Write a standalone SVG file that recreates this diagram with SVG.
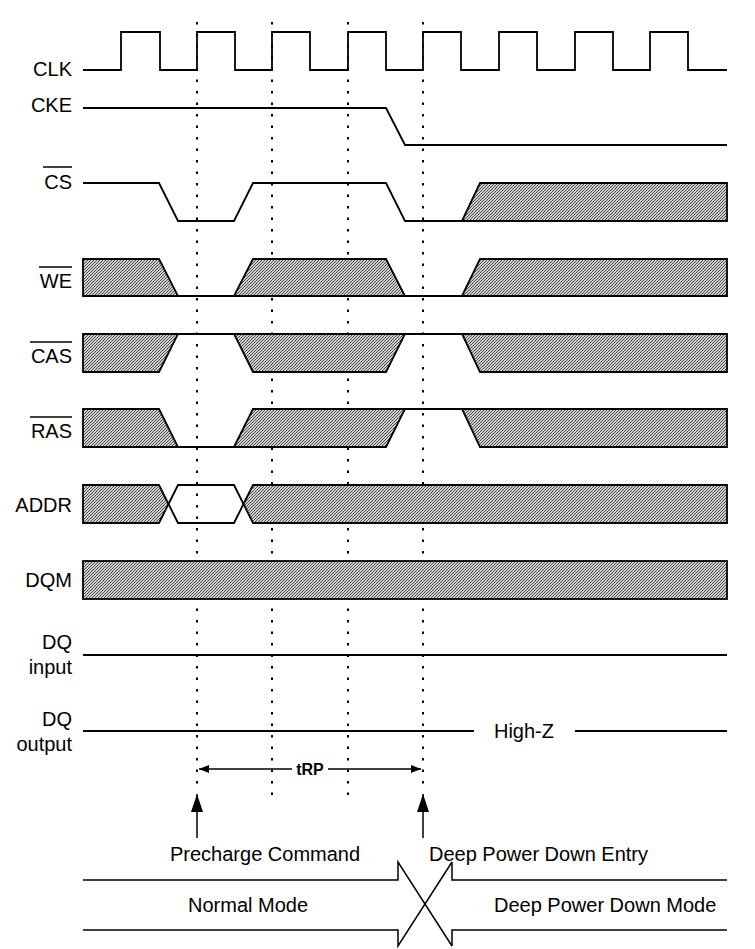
<svg xmlns="http://www.w3.org/2000/svg" width="755" height="949" viewBox="0 0 755 949">
<defs>
<pattern id="hatch" patternUnits="userSpaceOnUse" width="3" height="3">
<rect width="3" height="3" fill="#cfcfcf"/>
<path d="M-1,1 L1,-1 M0,3 L3,0 M2,4 L4,2" stroke="#3c3c3c" stroke-width="0.9"/>
</pattern>
<marker id="ah" viewBox="0 0 10 8" refX="10" refY="4" markerWidth="10" markerHeight="8" markerUnits="userSpaceOnUse" orient="auto-start-reverse">
<path d="M0,0 L10,4 L0,8 Z" fill="#000"/>
</marker>
<marker id="ahup" viewBox="0 0 18 12" refX="18" refY="6" markerWidth="18" markerHeight="12" markerUnits="userSpaceOnUse" orient="auto">
<path d="M0,0 L18,6 L0,12 Z" fill="#000"/>
</marker>
</defs>
<style>
.lbl{font-family:"Liberation Sans",Arial,sans-serif;font-size:20px;fill:#000}
.r{text-anchor:end}
.w{fill:none;stroke:#000;stroke-width:1.8;stroke-linejoin:miter}
.h{fill:url(#hatch);stroke:#000;stroke-width:1.8}
.grid{stroke:#000;stroke-width:2;stroke-dasharray:2.5 9}
.ol{stroke:#000;stroke-width:1.5}
.ln{fill:none;stroke:#000;stroke-width:1.5}
</style>
<rect width="755" height="949" fill="#fff"/>

<g id="gridlines">
<line class="grid" x1="197" y1="22" x2="197" y2="792"/>
<line class="grid" x1="272" y1="22" x2="272" y2="800"/>
<line class="grid" x1="348" y1="22" x2="348" y2="800"/>
<line class="grid" x1="423" y1="22" x2="423" y2="792"/>
</g>

<g id="clk">
<text class="lbl r" x="72" y="76">CLK</text>
<path class="w" d="M83,70 H121 V32 H160 V70 H197 V32 H235 V70 H272 V32 H310 V70 H348 V32 H386 V70 H423 V32 H461 V70 H499 V32 H537 V70 H575 V32 H613 V70 H650 V32 H688 V70 H727"/>
</g>

<g id="cke">
<text class="lbl r" x="72" y="112">CKE</text>
<path class="w" d="M83,108 H386 L405,145 H727"/>
</g>

<g id="cs">
<text class="lbl r" x="72" y="189">CS</text>
<line class="ol" x1="43" y1="167" x2="72" y2="167"/>
<path class="w" d="M83,183 H159 L178,221 H234 L253,183 H386 L405,221 H462"/>
<polygon class="h" points="462,221 480,183 727,183 727,221"/>
</g>

<g id="we">
<text class="lbl r" x="72" y="288">WE</text>
<line class="ol" x1="39" y1="267" x2="72" y2="267"/>
<polygon class="h" points="83,259 159,259 178,296 83,296"/>
<path class="w" d="M178,296 H234"/>
<polygon class="h" points="234,296 253,259 386,259 405,296"/>
<path class="w" d="M405,296 H462"/>
<polygon class="h" points="462,296 480,259 727,259 727,296"/>
</g>

<g id="cas">
<text class="lbl r" x="72" y="363">CAS</text>
<line class="ol" x1="30" y1="342" x2="72" y2="342"/>
<polygon class="h" points="83,334 178,334 159,372 83,372"/>
<path class="w" d="M178,334 H234"/>
<polygon class="h" points="234,334 405,334 386,372 253,372"/>
<path class="w" d="M405,334 H462"/>
<polygon class="h" points="462,334 727,334 727,372 480,372"/>
</g>

<g id="ras">
<text class="lbl r" x="72" y="438">RAS</text>
<line class="ol" x1="30" y1="417" x2="72" y2="417"/>
<polygon class="h" points="83,409 159,409 178,447 83,447"/>
<path class="w" d="M178,447 H234"/>
<polygon class="h" points="234,447 253,409 405,409 386,447"/>
<path class="w" d="M405,409 H462"/>
<polygon class="h" points="462,409 727,409 727,447 480,447"/>
</g>

<g id="addr">
<text class="lbl r" x="72" y="512">ADDR</text>
<polygon class="h" points="83,485 159,485 168.5,504 159,523 83,523"/>
<polygon class="w" points="168.5,504 178,485 234,485 243.5,504 234,523 178,523"/>
<polygon class="h" points="243.5,504 253,485 727,485 727,523 253,523"/>
</g>

<g id="dqm">
<text class="lbl r" x="72" y="587">DQM</text>
<rect class="h" x="83" y="561" width="644" height="38"/>
</g>

<g id="dq-input">
<text class="lbl r" x="72" y="649">DQ</text>
<text class="lbl r" x="72" y="674">input</text>
<path class="w" d="M83,655 H727"/>
</g>

<g id="dq-output">
<text class="lbl r" x="72" y="726">DQ</text>
<text class="lbl r" x="72" y="751">output</text>
<path class="w" d="M83,731 H474 M575,731 H727"/>
<text class="lbl" x="524" y="738" text-anchor="middle">High-Z</text>
</g>

<g id="connectors">
<line class="ln" x1="292" y1="769" x2="199" y2="769" marker-end="url(#ah)"/>
<line class="ln" x1="328" y1="769" x2="421" y2="769" marker-end="url(#ah)"/>
<text x="310" y="775" text-anchor="middle" font-family="Liberation Sans, Arial, sans-serif" font-size="16" font-weight="bold">tRP</text>
<line class="ln" x1="197" y1="838" x2="197" y2="794" marker-end="url(#ahup)"/>
<line class="ln" x1="423" y1="838" x2="423" y2="794" marker-end="url(#ahup)"/>
</g>

<g id="precharge-command">
<text class="lbl" x="170" y="861">Precharge Command</text>
</g>
<g id="dpd-entry">
<text class="lbl" x="429" y="861">Deep Power Down Entry</text>
</g>

<g id="normal-mode">
<path class="ln" d="M83,880 H398 V862 L452,946 M83,930 H398 V946 L452,862"/>
<text class="lbl" x="188" y="912">Normal Mode</text>
</g>
<g id="dpd-mode">
<path class="ln" d="M727,880 H452 V862 M727,930 H452 V946"/>
<text class="lbl" x="494" y="912">Deep Power Down Mode</text>
</g>
</svg>
